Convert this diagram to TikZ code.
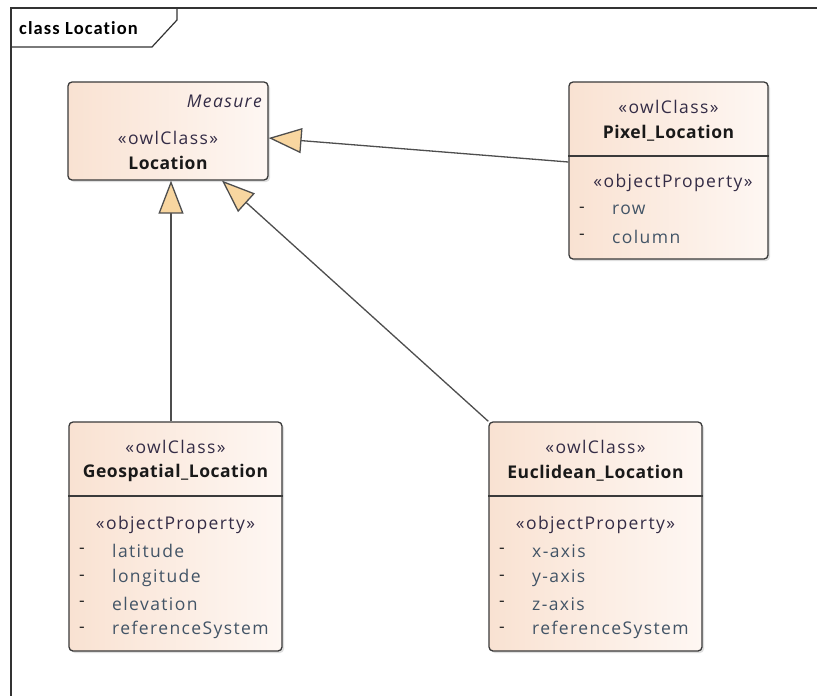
\documentclass[tikz,border=0pt]{standalone}
\usepackage{fontspec}
\setmainfont{Open Sans}
\newfontfamily\boxfont[LetterSpace=8]{Open Sans}
\newfontfamily\boxboldfont[LetterSpace=3]{Open Sans}
\newfontfamily\tabfont[LetterSpace=6,Ligatures={NoCommon}]{Carlito}
\usetikzlibrary{arrows.meta,shadows}

\definecolor{peachL}{RGB}{249,226,210}
\definecolor{peachR}{RGB}{254,247,243}
\definecolor{boxline}{RGB}{58,58,58}
\definecolor{tri}{RGB}{248,214,160}
\definecolor{stereo}{RGB}{52,44,70}
\definecolor{attr}{RGB}{66,84,102}

\tikzset{
  cls/.style={draw=boxline, line width=1.3pt, rounded corners=4pt,
    left color=peachL, right color=peachR, inner sep=0pt,
    drop shadow={shadow xshift=2pt, shadow yshift=-2pt, opacity=0.25, fill=gray}},
  divider/.style={draw=boxline, line width=1.3pt},
  txt/.style={inner sep=0pt, font=\boxfont\fontsize{17.5}{20}\selectfont},
  stereotype/.style={txt, text=stereo},
  cname/.style={txt, font=\boxboldfont\fontsize{17.5}{20}\selectfont\bfseries, text=black!90},
  attrname/.style={txt, anchor=west, text=attr},
  dashmark/.style={txt, anchor=west, text=black!85},
  inherit/.style={draw=boxline!90, line width=1.3pt,
    -{Triangle[length=33pt, width=25pt, fill=tri, line width=1.3pt]}},
  frameline/.style={draw=black!80, line width=1.2pt}
}

\begin{document}
\begin{tikzpicture}[x=1pt, y=-1pt]
\useasboundingbox (0,0) rectangle (817,696);
\fill[white] (0,0) rectangle (817,696);

% diagram frame and its name tab
\draw[frameline] (11,700) -- (11,8) -- (820,8);
\draw[frameline] (11,47) -- (152,47) -- (177,20) -- (177,8);
\node[inner sep=0pt, anchor=west, font=\tabfont\fontsize{18.5}{20}\selectfont\bfseries]
  (title) at (19,28) {class Location};

% Location
\node[cls, minimum width=200pt, minimum height=98pt] (loc) at (168,131) {};
\node[txt, anchor=east, font=\boxfont\fontsize{17.5}{20}\selectfont\itshape, text=stereo]
  (locmeas) at (262,101) {Measure};
\node[stereotype] (locst) at (168,138) {«owlClass»};
\node[cname] (locname) at (168,163) {Location};

% Pixel_Location
\node[cls, minimum width=199pt, minimum height=177pt] (pix) at (668.5,170.5) {};
\draw[divider] (pix.west |- 0,156) -- (pix.east |- 0,156);
\node[stereotype] (pixst) at (668.5,107) {«owlClass»};
\node[cname] (pixname) at (668.5,133) {Pixel\_Location};
\node[stereotype] (pixop) at (673,183) {«objectProperty»};
\node[dashmark] (pixd1) at (579,210) {-};
\node[attrname] (pixa1) at (612,210) {row};
\node[dashmark] (pixd2) at (579,237) {-};
\node[attrname] (pixa2) at (612,237) {column};

% Geospatial_Location
\node[cls, minimum width=213pt, minimum height=229pt] (geo) at (175.5,536.5) {};
\draw[divider] (geo.west |- 0,496) -- (geo.east |- 0,496);
\node[stereotype] (geost) at (175.5,447) {«owlClass»};
\node[cname] (geoname) at (175.5,473) {Geospatial\_Location};
\node[stereotype] (geoop) at (175.5,525) {«objectProperty»};
\node[dashmark] (geod1) at (79,551) {-};
\node[attrname] (geoa1) at (112,551) {latitude};
\node[dashmark] (geod2) at (79,578) {-};
\node[attrname] (geoa2) at (112,578) {longitude};
\node[dashmark] (geod3) at (79,604) {-};
\node[attrname] (geoa3) at (112,604) {elevation};
\node[dashmark] (geod4) at (79,630) {-};
\node[attrname] (geoa4) at (112,630) {referenceSystem};

% Euclidean_Location
\node[cls, minimum width=213pt, minimum height=229pt] (euc) at (595.5,536.5) {};
\draw[divider] (euc.west |- 0,496) -- (euc.east |- 0,496);
\node[stereotype] (eucst) at (595.5,447) {«owlClass»};
\node[cname] (eucname) at (595.5,473) {Euclidean\_Location};
\node[stereotype] (eucop) at (595.5,525) {«objectProperty»};
\node[dashmark] (eucd1) at (499,551) {-};
\node[attrname] (euca1) at (532,551) {x-axis};
\node[dashmark] (eucd2) at (499,578) {-};
\node[attrname] (euca2) at (532,578) {y-axis};
\node[dashmark] (eucd3) at (499,604) {-};
\node[attrname] (euca3) at (532,604) {z-axis};
\node[dashmark] (eucd4) at (499,630) {-};
\node[attrname] (euca4) at (532,630) {referenceSystem};

% generalizations
\draw[inherit] ([yshift=8.5pt]pix.west) -- ([yshift=-7pt]loc.east);
\draw[inherit] ([xshift=-4.5pt]geo.north) -- ([xshift=3pt]loc.south);
\draw[inherit] (euc.north west) -- ([xshift=54pt]loc.south);
\end{tikzpicture}
\end{document}
